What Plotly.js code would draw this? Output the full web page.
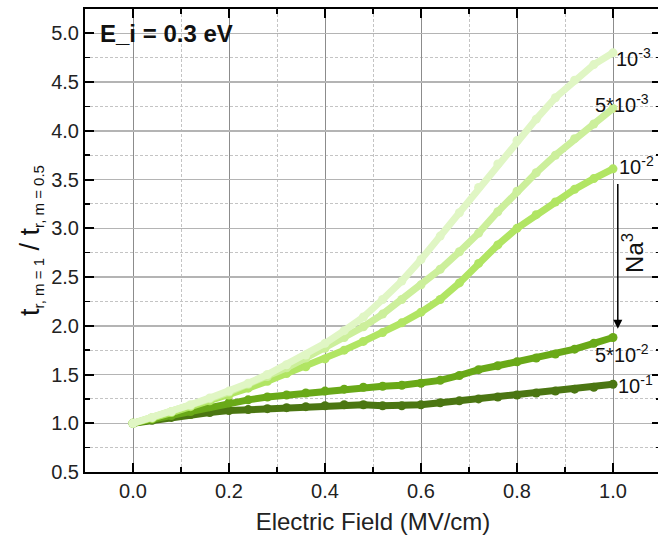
<!DOCTYPE html>
<html>
<head>
<meta charset="utf-8">
<script src="https://cdn.plot.ly/plotly-3.0.1.min.js"></script>
<style>
html,body{margin:0;padding:0;overflow:hidden;background:#fff;}
#chart{width:663px;height:540px;}
</style>
</head>
<body>
<div id="chart"></div>
<script>
// Electric field (MV/cm)
const field = [0, 0.04, 0.08, 0.12, 0.16, 0.20, 0.24, 0.28, 0.32, 0.36, 0.40, 0.44, 0.48,
               0.52, 0.56, 0.60, 0.64, 0.68, 0.72, 0.76, 0.80, 0.84, 0.88, 0.92, 0.96, 1.00];
// Ratio t_r,m=1 / t_r,m=0.5 per Na concentration
const na_1e3  = [1.00,1.06,1.12,1.19,1.26,1.33,1.41,1.50,1.60,1.70,1.82,1.95,2.09,2.27,2.46,2.68,2.92,3.16,3.42,3.66,3.90,4.12,4.34,4.52,4.68,4.80];
const na_5e3  = [1.00,1.06,1.12,1.18,1.25,1.32,1.40,1.48,1.57,1.67,1.77,1.88,1.99,2.12,2.27,2.42,2.58,2.76,2.95,3.17,3.38,3.57,3.75,3.92,4.07,4.23];
const na_1e2  = [1.00,1.05,1.11,1.17,1.23,1.29,1.36,1.43,1.51,1.58,1.66,1.75,1.84,1.93,2.03,2.14,2.27,2.44,2.64,2.83,3.00,3.14,3.27,3.40,3.51,3.61];
const na_5e2  = [1.00,1.04,1.08,1.12,1.17,1.21,1.24,1.27,1.29,1.31,1.33,1.35,1.37,1.38,1.39,1.41,1.44,1.49,1.55,1.59,1.63,1.67,1.71,1.76,1.82,1.88];
const na_1e1  = [1.00,1.03,1.06,1.09,1.11,1.13,1.14,1.15,1.16,1.17,1.18,1.19,1.19,1.18,1.18,1.19,1.21,1.23,1.25,1.27,1.29,1.31,1.33,1.35,1.37,1.40];

const seriesNames = ['10^-1','5*10^-2','10^-2','5*10^-3','10^-3'];
const seriesData  = [na_1e1, na_5e2, na_1e2, na_5e3, na_1e3];
const seriesColors = ['#4b7612','#69a918','#b1e563','#ccef9b','#e0f6c4'];

const traces = seriesData.map((ys, i) => ({
  x: field, y: ys, type: 'scatter', mode: 'lines+markers', name: seriesNames[i],
  line: {color: seriesColors[i], width: 7},
  marker: {color: seriesColors[i], size: 9},
  showlegend: false, hoverinfo: 'skip'
}));

const FF = 'Liberation Sans, Arial, sans-serif';
const labelTexts = ['10<sup>-3</sup>','5*10<sup>-3</sup>','10<sup>-2</sup>','5*10<sup>-2</sup>','10<sup>-1</sup>'];
const labelX = [1.002, 0.958, 1.008, 0.958, 1.006];
const labelY = [4.75, 4.28, 3.64, 1.72, 1.40];

const annotations = labelTexts.map((t, i) => ({
  x: labelX[i], y: labelY[i], xref: 'x', yref: 'y', text: t, showarrow: false,
  xanchor: 'left', yanchor: 'middle',
  font: {family: FF, size: 20, color: '#111'}
}));
annotations.push({
  x: -0.073, y: 5.0, xref: 'x', yref: 'y', text: '<b>E_i = 0.3 eV</b>', showarrow: false,
  xanchor: 'left', yanchor: 'middle',
  font: {family: FF, size: 24, color: '#111'}
});
annotations.push({
  x: 1.01, y: 1.97, ax: 1.01, ay: 3.47, xref: 'x', yref: 'y', axref: 'x', ayref: 'y',
  text: '', showarrow: true, arrowhead: 2, arrowsize: 1.2, arrowwidth: 1.5, arrowcolor: '#000'
});
annotations.push({
  x: 1.04, y: 2.75, xref: 'x', yref: 'y', text: 'Na<sup>3</sup>', showarrow: false,
  textangle: -90, xanchor: 'center', yanchor: 'middle',
  font: {family: FF, size: 24, color: '#111'}
});

const font = {family: FF, size: 20, color: '#222'};

const layout = {
  width: 663, height: 540,
  margin: {l: 85, r: 2, t: 9, b: 68},
  paper_bgcolor: '#fff', plot_bgcolor: '#fff',
  font: font,
  xaxis: {
    range: [-0.1, 1.1], dtick: 0.2, tick0: 0, tickformat: '.1f',
    showline: true, linecolor: '#000', linewidth: 2, mirror: 'ticks',
    ticks: 'inside', ticklen: 9, tickwidth: 2, tickcolor: '#000',
    showgrid: true, gridcolor: '#8c8c8c', gridwidth: 1, zeroline: false,
    minor: {dtick: 0.1, ticks: 'inside', ticklen: 5, tickwidth: 1.5, tickcolor: '#000',
            showgrid: true, gridcolor: '#c4c4c4', griddash: '3px,2px', gridwidth: 1},
    tickfont: font,
    title: {text: 'Electric Field (MV/cm)', font: {family: FF, size: 24, color: '#222'}, standoff: 12}
  },
  yaxis: {
    range: [0.5, 5.25], dtick: 0.5, tick0: 0.5, tickformat: '.1f',
    showline: true, linecolor: '#000', linewidth: 2, mirror: 'ticks',
    ticks: 'inside', ticklen: 9, tickwidth: 2, tickcolor: '#000',
    showgrid: true, gridcolor: '#b4b4b4', gridwidth: 1.5, zeroline: false,
    minor: {dtick: 0.25, ticks: 'inside', ticklen: 5, tickwidth: 1.5, tickcolor: '#000',
            showgrid: true, gridcolor: '#c4c4c4', griddash: '3px,2px', gridwidth: 1},
    tickfont: font,
    title: {text: 't<sub><span style="font-size:15px">r, m = 1</span></sub> / t<sub><span style="font-size:15px">r, m = 0.5</span></sub>',
            font: {family: FF, size: 27, color: '#111'}, standoff: 4}
  },
  annotations: annotations,
  showlegend: false
};

Plotly.newPlot('chart', traces, layout, {displayModeBar: false, staticPlot: true});
</script>
</body>
</html>
